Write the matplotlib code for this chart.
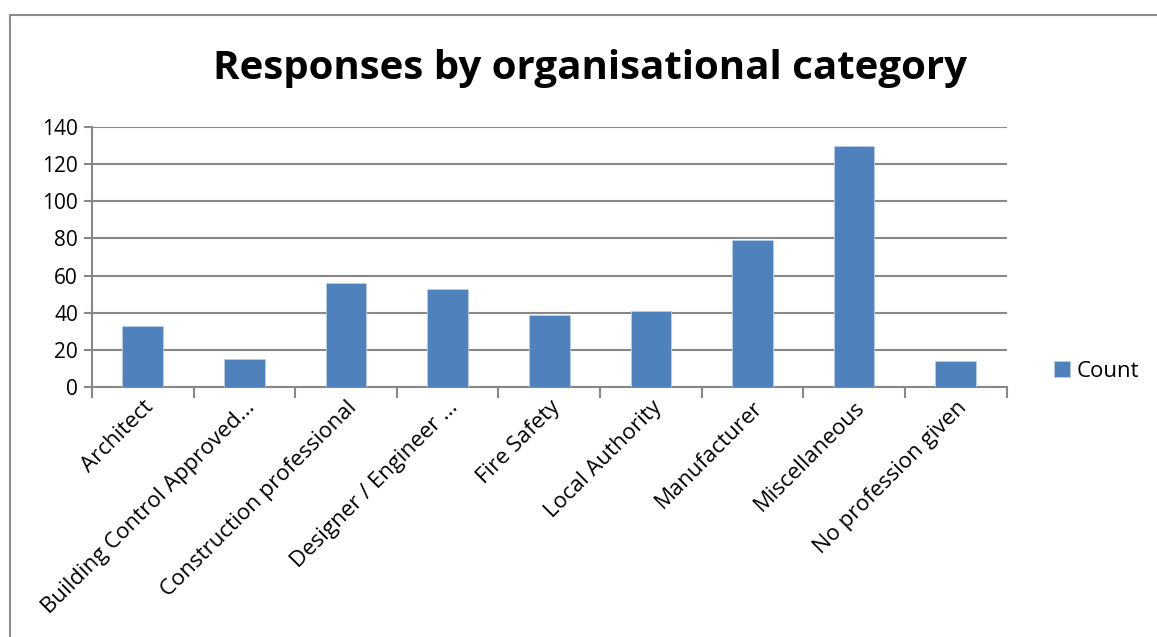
import matplotlib.pyplot as plt
import matplotlib.patches as patches
import numpy as np

# categories and counts
categories = ["Architect", "Building Control Approved...", "Construction professional",
              "Designer / Engineer ...", "Fire Safety", "Local Authority",
              "Manufacturer", "Miscellaneous", "No profession given"]
counts = [33, 15, 56, 53, 39, 41, 79, 130, 14]
y_ticks = [0, 20, 40, 60, 80, 100, 120, 140]

plt.rcParams['font.family'] = ['Open Sans', 'DejaVu Sans']

bar_color = '#4F81BD'
grid_color = '#888888'

fig = plt.figure(figsize=(11.57, 6.37), dpi=100)
ax = fig.add_axes([0.0795, 0.3925, 0.7905, 0.4081])

x = np.arange(len(categories))
ax.bar(x, counts, width=0.4, color=bar_color, edgecolor='#B9CDE5', linewidth=0.6,
       label='Count', zorder=3)

ax.set_ylim(0, 140)
ax.set_yticks(y_ticks)
ax.set_xlim(-0.5, len(categories) - 0.5)
ax.grid(axis='y', color=grid_color, linewidth=1.5, zorder=0)

# category ticks sit between bars, like the spreadsheet chart
ax.set_xticks(x)
ax.set_xticklabels(categories, rotation=45, ha='right', va='top', rotation_mode='anchor',
                   fontsize=16)
ax.tick_params(axis='x', which='major', length=0, pad=7)
ax.set_xticks(np.arange(-0.5, len(categories)), minor=True)
ax.tick_params(axis='x', which='minor', length=8, width=1.5, color=grid_color, direction='out')
ax.tick_params(axis='y', length=6, width=1.5, color=grid_color, labelsize=15, pad=4)

for side in ['top', 'right']:
    ax.spines[side].set_visible(False)
for side in ['left', 'bottom']:
    ax.spines[side].set_color(grid_color)
    ax.spines[side].set_linewidth(1.5)

fig.text(0.51, 0.893, "Responses by organisational category", ha='center', va='center',
         fontsize=29, fontweight='bold')

ax.legend(loc='center left', bbox_to_anchor=(1.03, 0.06), frameon=False, fontsize=16,
          handlelength=0.7, handleheight=0.7, handletextpad=0.3)

# outer chart border (cut off at right and bottom)
fig.patches.append(patches.Rectangle((10 / 1157, -0.1), 1.2, 1.1 - 15 / 637, transform=fig.transFigure,
                                     fill=False, edgecolor='#8C8C8C', linewidth=1.5))

fig.savefig('out.png', dpi=100)
